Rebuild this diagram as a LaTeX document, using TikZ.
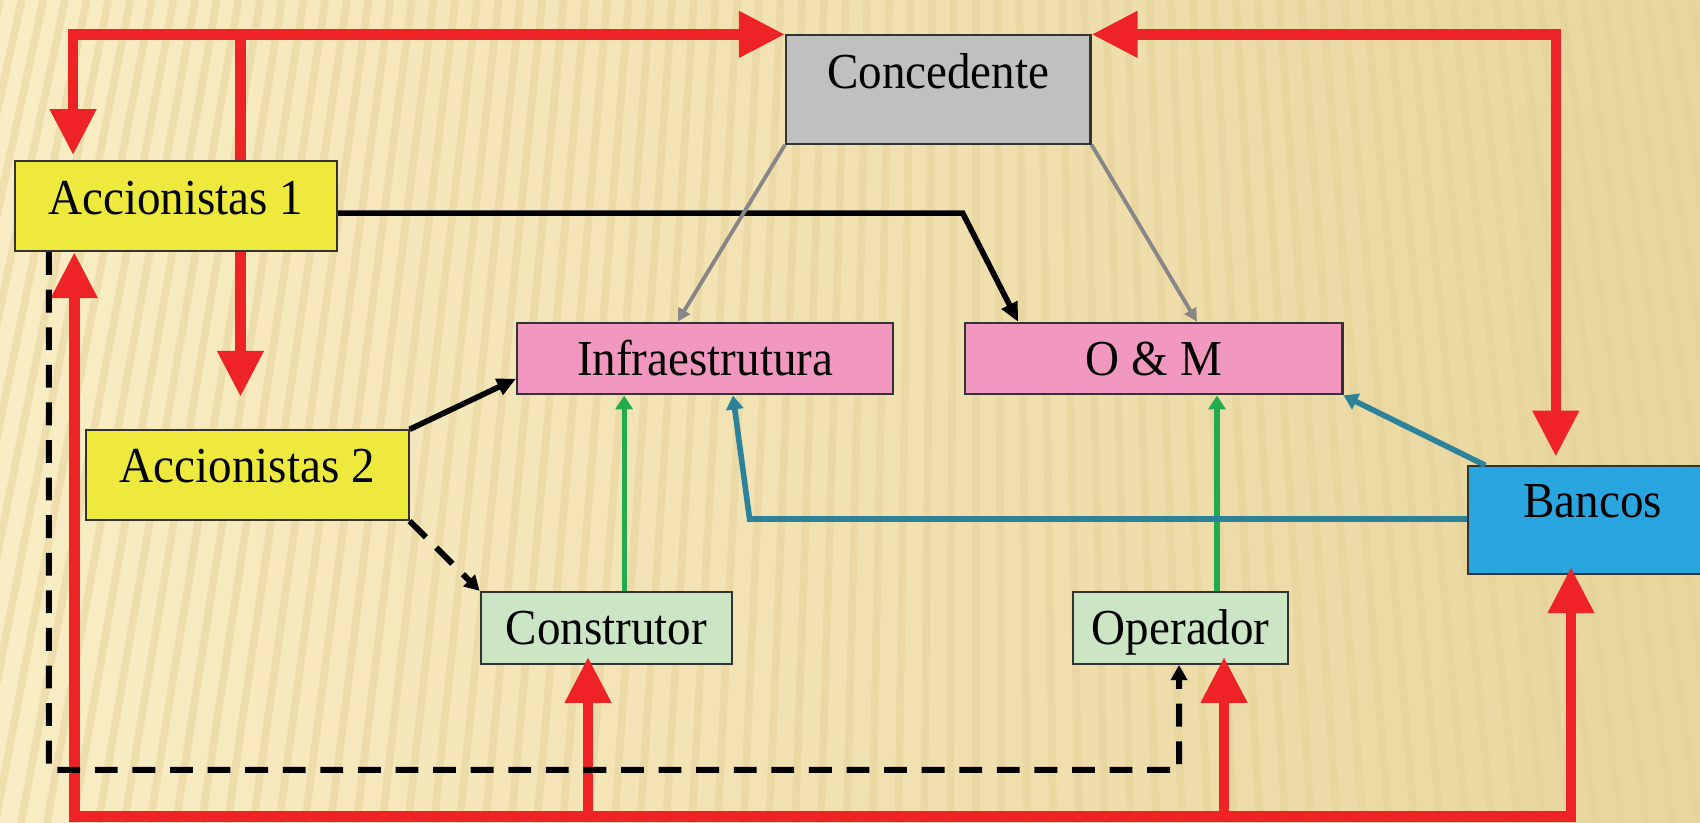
\documentclass[tikz,border=0pt]{standalone}
\usepackage{fontspec}
\setmainfont{Liberation Serif}
\usetikzlibrary{arrows.meta,calc}

\definecolor{bgbase}{HTML}{F8EDC4}
\definecolor{bglight}{HTML}{FBF2CF}
\definecolor{bgdark}{HTML}{E9D69E}
\definecolor{bgstripe}{HTML}{E6D298}
\definecolor{redline}{HTML}{EE2326}
\definecolor{boxgray}{HTML}{C0C0C0}
\definecolor{boxyellow}{HTML}{EEEA3D}
\definecolor{boxpink}{HTML}{F197C0}
\definecolor{boxgreen}{HTML}{CCE5C4}
\definecolor{boxblue}{HTML}{29A6DF}
\definecolor{greenline}{HTML}{22AA4F}
\definecolor{tealline}{HTML}{2B8299}
\definecolor{grayline}{HTML}{878787}

\pgfdeclarelayer{back}
\pgfdeclarelayer{under}
\pgfsetlayers{back,under,main}

\tikzset{
  Rtip/.tip={Triangle[length=4.6mm,width=4.4mm]},
  Ktip/.tip={Triangle[length=1.9mm,width=1.7mm]},
  Dtip/.tip={Triangle[length=1.5mm,width=1.6mm]},
  Gtip/.tip={Triangle[length=1.3mm,width=1.3mm]},
  Ntip/.tip={Triangle[length=1.4mm,width=1.7mm]},
}

% slightly tall lettering for the box labels
\newcommand{\boxlabel}[1]{\scalebox{1}[1.07]{#1}}

\begin{document}
\begin{tikzpicture}[x=0.010842cm, y=-0.010842cm,
  box/.style={draw=black!80, line width=0.6pt, rectangle, inner sep=0pt,
    anchor=north west, font=\fontsize{13.4pt}{16pt}\selectfont, text=black},
  redarr/.style={draw=redline, line width=3pt, line join=miter},
  kline/.style={draw=black, line width=1.6pt, line join=miter},
  kdash/.style={draw=black, line width=1.7pt, dash pattern=on 6.5pt off 4.2pt},
  gline/.style={draw=grayline, line width=1.1pt},
  grline/.style={draw=greenline, line width=1.5pt},
  tline/.style={draw=tealline, line width=1.6pt, line join=miter},
]
\useasboundingbox (0,0) rectangle (1568,759);
\clip (0,0) rectangle (1568,759);

% striped backdrop
\begin{pgfonlayer}{back}
  \shade[left color=bgbase, middle color=bglight, right color=bgdark] (0,0) rectangle (1568,759);
  \foreach \x in {-300,-280,...,1900} {
    \draw[bgstripe, line width=2.2pt, opacity=0.5]
      (\x,0) -- ({\x+0.19*(\x-900)},759);
  }
  \fill[bgdark, opacity=0.35] (1400,95) rectangle (1568,759);
\end{pgfonlayer}

% boxes
\node[box, fill=boxgray, minimum width=3.047cm, text height=0.531cm, text depth=0.553cm]
  (con) at (724,31.7) {\boxlabel{Concedente}};
\node[box, fill=boxyellow, minimum width=3.226cm, text height=0.530cm, text depth=0.370cm]
  (ac1) at (12.5,147.6) {\boxlabel{Accionistas 1}};
\node[box, fill=boxyellow, minimum width=3.226cm, text height=0.524cm, text depth=0.373cm]
  (ac2) at (78.5,396) {\boxlabel{Accionistas 2}};
\node[box, fill=boxpink, minimum width=3.762cm, text height=0.524cm, text depth=0.193cm]
  (inf) at (476,296.7) {\boxlabel{Infraestrutura}};
\node[box, fill=boxpink, minimum width=3.773cm, text height=0.524cm, text depth=0.193cm]
  (om) at (889.5,296.7) {\boxlabel{O \& M}};
\node[box, fill=boxgreen, minimum width=2.515cm, text height=0.525cm, text depth=0.196cm]
  (cons) at (442.4,545) {\boxlabel{Construtor}};
\node[box, fill=boxgreen, minimum width=2.151cm, text height=0.525cm, text depth=0.196cm]
  (ope) at (989,545) {\boxlabel{Operador}};
\node[box, fill=boxblue, minimum width=2.494cm, text height=0.513cm, text depth=0.561cm]
  (ban) at (1353,429.2) {\boxlabel{Bancos}};

% bends of the red frame
\coordinate (tl) at (67.4,31.7);
\coordinate (tm) at (221.8,31.7);
\coordinate (tr) at (1435,31.7);
\coordinate (bl) at (68.5,753);
\coordinate (br) at (1449,753);
\coordinate (bc) at (542.4,753);
\coordinate (bo) at (1129,753);
\coordinate (a2tip) at (221.8,366);

% red flows
\begin{pgfonlayer}{under}
  \draw[redarr, -{Rtip}] (tm) -- (a2tip);
\end{pgfonlayer}
\draw[redarr, {Rtip}-{Rtip}] ($(tl |- ac1.north)+(0,-4.5)$) -- (tl) -- (con.north west);
\draw[redarr, {Rtip}-{Rtip}] (con.north east) -- (tr) -- ($(tr |- ban.north)+(0,-8)$);
\draw[redarr, {Rtip}-{Rtip}] (bl |- ac1.south) -- (bl) -- (br) -- ($(br |- ban.south)+(0,-7)$);
\draw[redarr, -{Rtip}] (bc) -- ($(bc |- cons.south)+(0,-7.5)$);
\draw[redarr, -{Rtip}] (bo) -- ($(bo |- ope.south)+(0,-7.5)$);

% black links
\coordinate (dl) at (45,710);
\coordinate (dr) at (1087.5,710);
\draw[kdash, -{Dtip}] ($(ac1.south west)+(32.5,0)$) -- (dl) -- (dr) -- (dr |- ope.south);
\draw[kdash, -{Dtip}] (ac2.south east) -- (cons.north west);
\draw[kline, -{Ktip}] (ac2.north east) -- ($(inf.south west)+(0,-15.4)$);
\coordinate (kb) at (888,196.6);
\draw[kline, -{Ktip}] (ac1.east |- kb) -- (kb) -- ($(om.north west)+(49.5,0)$);

% grey links
\draw[gline, -{Gtip}] (con.south west) -- ($(inf.north west)+(149,0)$);
\draw[gline, -{Gtip}] (con.south east) -- ($(om.north west)+(214.5,0)$);

% green links
\coordinate (g1) at ($(cons.north)+(16.4,0)$);
\draw[grline, -{Ntip}] (g1) -- (g1 |- inf.south);
\coordinate (g2) at ($(ope.north)+(33.4,0)$);
\draw[grline, -{Ntip}] (g2) -- (g2 |- om.south);

% teal links
\coordinate (tb) at (691.4,478.7);
\draw[tline, -{Ntip}] (ban.west |- tb) -- (tb) -- ($(inf.south west)+(200,0)$);
\draw[tline, -{Ntip}] ($(ban.north west)+(17,0)$) -- (om.south east);
\end{tikzpicture}
\end{document}
